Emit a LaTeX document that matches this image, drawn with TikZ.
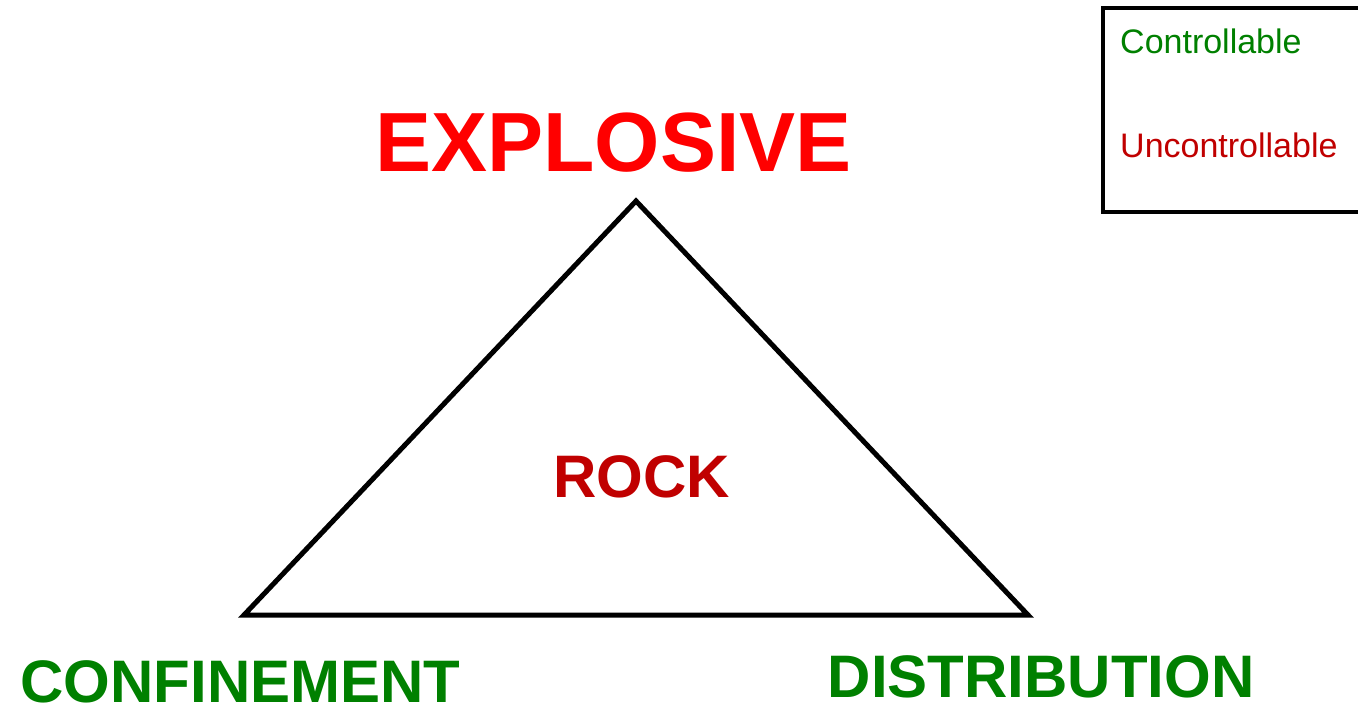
\documentclass[tikz,border=0pt]{standalone}
\usepackage{fontspec}
\setmainfont{Liberation Sans}
\usepackage{xcolor}
\usepackage{tikz}
\usetikzlibrary{positioning, calc}
\definecolor{ctrlgreen}{RGB}{0, 128, 0}
\definecolor{unctrlred}{RGB}{192, 0, 0}
\definecolor{explred}{RGB}{255, 0, 0}

\begin{document}
\begin{tikzpicture}[x=1pt, y=-1pt,
    bigword/.style={inner sep=0pt, anchor=base, font=\fontsize{60}{66}\selectfont\bfseries},
    legendword/.style={inner sep=0pt, anchor=base west, font=\fontsize{34}{40}\selectfont}]
    \useasboundingbox (0,0) rectangle (1358,704);

    % triangle corners
    \coordinate (apex) at (636,201);
    \coordinate (lowleft) at (244,615);
    \coordinate (lowright) at (1028,615);
    \draw[line width=5pt, line join=miter] (apex) -- (lowright) -- (lowleft) -- cycle;

    % labels
    \node[bigword, text=explred, font=\fontsize{84}{90}\selectfont\bfseries] (explosive) at (613.5,171) {EXPLOSIVE};
    \node[bigword, text=unctrlred] (rock) at (641.5,497) {ROCK};
    \node[bigword, text=ctrlgreen] (confinement) at (240.5,702) {CONFINEMENT};
    \node[bigword, text=ctrlgreen] (distribution) at (1041,697) {DISTRIBUTION};

    % legend
    \draw[line width=4pt] (1103,8) rectangle (1380,212);
    \node[legendword, text=ctrlgreen] (ctrl) at (1120,53) {Controllable};
    \node[legendword, text=unctrlred] (unctrl) at (1120,157) {Uncontrollable};
\end{tikzpicture}
\end{document}
